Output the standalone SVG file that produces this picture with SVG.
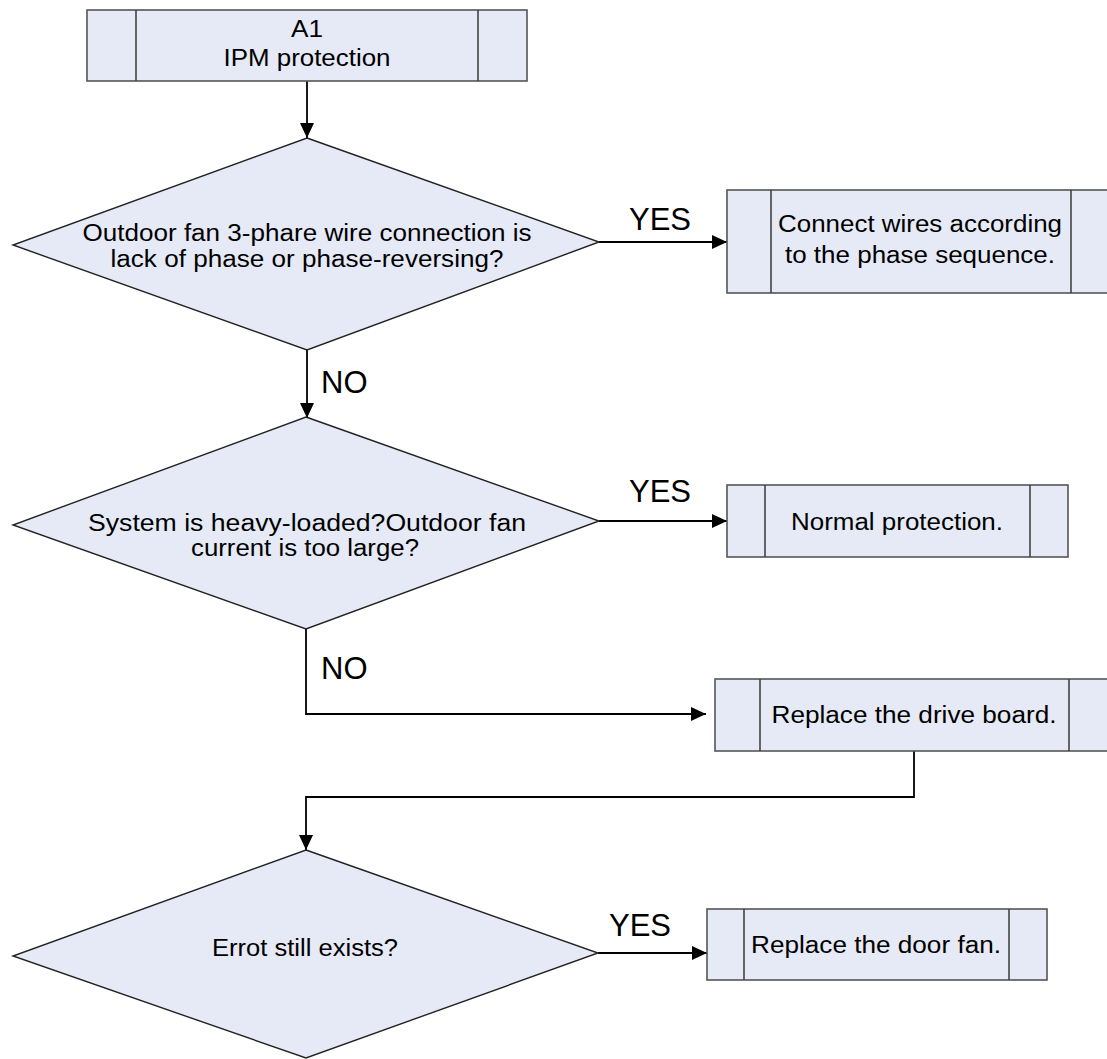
<svg xmlns="http://www.w3.org/2000/svg" width="1107" height="1059" viewBox="0 0 1107 1059">
<style>
.box{fill:#E6EAF6;stroke:#555;stroke-width:1.6}
.div{stroke:#444;stroke-width:1.6;fill:none}
.dia{fill:#E6EAF6;stroke:#222;stroke-width:1.4}
.t{font-family:"Liberation Sans",Arial,sans-serif;font-size:23px;fill:#000;text-anchor:middle}
.lbl{font-family:"Liberation Sans",Arial,sans-serif;font-size:31px;fill:#000}
.c{fill:none;stroke:#000;stroke-width:1.8}
</style>
<defs>
<marker id="ah" markerUnits="userSpaceOnUse" markerWidth="16" markerHeight="16" refX="15" refY="7" orient="auto">
<path d="M0,0 L15,7 L0,14 z" fill="#000"/>
</marker>
</defs>
<rect width="1107" height="1059" fill="#fff"/>

<g id="connectors">
<path class="c" d="M307,81 V138" marker-end="url(#ah)"/>
<path class="c" d="M599,242 H727" marker-end="url(#ah)"/>
<path class="c" d="M307,350 V418" marker-end="url(#ah)"/>
<path class="c" d="M599,521 H727" marker-end="url(#ah)"/>
<path class="c" d="M306,629 V714 H706" marker-end="url(#ah)"/>
<path class="c" d="M914,751 V797 H306 V850" marker-end="url(#ah)"/>
<path class="c" d="M598,953 H707" marker-end="url(#ah)"/>
<text class="lbl" x="629" y="230">YES</text>
<text class="lbl" x="321" y="393">NO</text>
<text class="lbl" x="629" y="502">YES</text>
<text class="lbl" x="321" y="679">NO</text>
<text class="lbl" x="609" y="936">YES</text>
</g>

<g id="n-start">
<rect class="box" x="87" y="10" width="440" height="71"/>
<path class="div" d="M136,10 V81 M478,10 V81"/>
<text class="t" x="307" y="37" textLength="32" lengthAdjust="spacingAndGlyphs">A1</text>
<text class="t" x="307" y="66" textLength="167" lengthAdjust="spacingAndGlyphs">IPM protection</text>
</g>

<g id="d-phase">
<polygon class="dia" points="307,138 599,242 307,350 13,245"/>
<text class="t" x="307" y="241" textLength="449" lengthAdjust="spacingAndGlyphs">Outdoor fan 3-phare wire connection is</text>
<text class="t" x="307" y="267" textLength="393" lengthAdjust="spacingAndGlyphs">lack of phase or phase-reversing?</text>
</g>

<g id="n-connect">
<rect class="box" x="727" y="190" width="400" height="103"/>
<path class="div" d="M771,190 V293 M1071,190 V293"/>
<text class="t" x="920" y="232" textLength="284" lengthAdjust="spacingAndGlyphs">Connect wires according</text>
<text class="t" x="920" y="263" textLength="270" lengthAdjust="spacingAndGlyphs">to the phase sequence.</text>
</g>

<g id="d-load">
<polygon class="dia" points="306,417 599,521 306,629 13,525"/>
<text class="t" x="307" y="531" textLength="438" lengthAdjust="spacingAndGlyphs">System is heavy-loaded?Outdoor fan</text>
<text class="t" x="305" y="556" textLength="228" lengthAdjust="spacingAndGlyphs">current is too large?</text>
</g>

<g id="n-normal">
<rect class="box" x="727" y="485" width="341" height="72"/>
<path class="div" d="M765,485 V557 M1030,485 V557"/>
<text class="t" x="897" y="530" textLength="212" lengthAdjust="spacingAndGlyphs">Normal protection.</text>
</g>

<g id="n-drive">
<rect class="box" x="715" y="679" width="410" height="72"/>
<path class="div" d="M760,679 V751 M1069,679 V751"/>
<text class="t" x="914" y="723" textLength="285" lengthAdjust="spacingAndGlyphs">Replace the drive board.</text>
</g>

<g id="d-error">
<polygon class="dia" points="306,850 598,953 306,1058 13,956"/>
<text class="t" x="305" y="956" textLength="186" lengthAdjust="spacingAndGlyphs">Errot still exists?</text>
</g>

<g id="n-fan">
<rect class="box" x="707" y="909" width="340" height="71"/>
<path class="div" d="M744,909 V980 M1009,909 V980"/>
<text class="t" x="876" y="953" textLength="250" lengthAdjust="spacingAndGlyphs">Replace the door fan.</text>
</g>
</svg>
